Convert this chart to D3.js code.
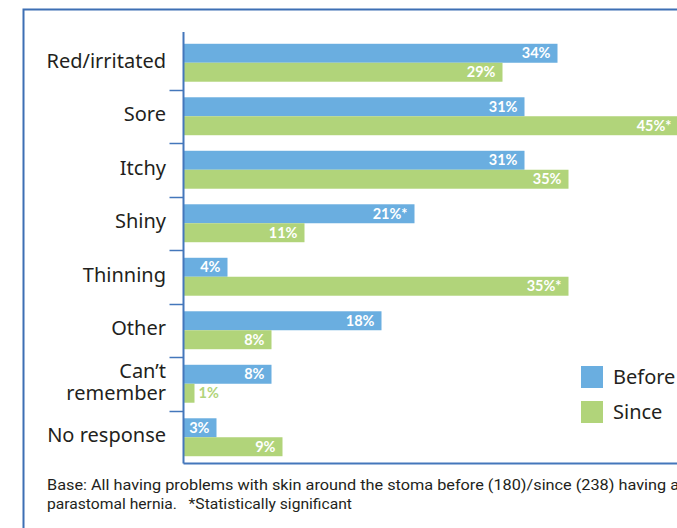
<!DOCTYPE html>
<html>
<head>
<meta charset="utf-8">
<script src="https://cdn.jsdelivr.net/npm/d3@7/dist/d3.min.js"></script>
<style>
  html, body { margin: 0; padding: 0; background: #fff; }
  svg { display: block; }
  .note { white-space: pre; }
</style>
</head>
<body>
<svg id="chart" width="677" height="528"></svg>
<script>
// Skin problems around the stoma, before vs since having a parastomal hernia
const categories = ["Red/irritated", "Sore", "Itchy", "Shiny", "Thinning", "Other", "Can\u2019t remember", "No response"];
const categoryLines = [["Red/irritated"], ["Sore"], ["Itchy"], ["Shiny"], ["Thinning"], ["Other"], ["Can\u2019t", "remember"], ["No response"]];
const beforeValues = [34, 31, 31, 21, 4, 18, 8, 3];
const sinceValues  = [29, 45, 35, 11, 35, 8, 1, 9];
const beforeFlags  = ["", "", "", "*", "", "", "", ""];
const sinceFlags   = ["", "*", "", "", "*", "", "", ""];
const seriesNames  = ["Before", "Since"];
const seriesColors = ["#6aaee0", "#b1d47a"];
const footnoteLines = [
  "Base: All having problems with skin around the stoma before (180)/since (238) having a",
  "parastomal hernia.   *Statistically significant"
];

const svg = d3.select("#chart");
const frameColor = "#3d6fb4";
const axisColor = "#4477bb";
const labelFont = "'Noto Sans', 'Open Sans', sans-serif";
const valueFont = "Lato, 'Open Sans', sans-serif";

// outer frame (top and left edges)
svg.append("path")
  .attr("d", "M23.5,528 L23.5,9.5 L677,9.5")
  .attr("fill", "none")
  .attr("stroke", frameColor)
  .attr("stroke-width", 2);

const axisX = 183.5;
const x = d3.scaleLinear().domain([0, 45]).range([axisX, axisX + 495]);
const y = d3.scaleBand().domain(categories).range([36, 464]).padding(0);
const ySub = d3.scaleBand().domain(seriesNames).range([0, y.bandwidth()]).paddingInner(0).paddingOuter(0.41);

const rows = categories.map((c, i) => ({
  cat: c,
  vals: [
    { s: "Before", v: beforeValues[i], flag: beforeFlags[i], color: seriesColors[0] },
    { s: "Since",  v: sinceValues[i],  flag: sinceFlags[i],  color: seriesColors[1] }
  ]
}));

const g = svg.append("g");
const groups = g.selectAll("g.row").data(rows).join("g")
  .attr("class", "row")
  .attr("transform", d => `translate(0,${y(d.cat)})`);

groups.selectAll("rect").data(d => d.vals).join("rect")
  .attr("x", x(0))
  .attr("y", d => ySub(d.s))
  .attr("width", d => x(d.v) - x(0))
  .attr("height", ySub.bandwidth())
  .attr("fill", d => d.color);

// value labels: inside the bar end, or just past it when the bar is short
groups.selectAll("text.val").data(d => d.vals).join("text")
  .attr("class", "val")
  .attr("x", d => d.v >= 3 ? x(d.v) - 7 : x(d.v) + 4)
  .attr("y", d => ySub(d.s) + ySub.bandwidth() / 2)
  .attr("dy", "0.36em")
  .attr("text-anchor", d => d.v >= 3 ? "end" : "start")
  .attr("fill", d => d.v >= 3 ? "#ffffff" : d.color)
  .attr("font-family", valueFont)
  .attr("font-weight", 700)
  .attr("font-size", 14.5)
  .text(d => d.v + "%" + d.flag);

// category axis line and bottom baseline
svg.append("line")
  .attr("x1", axisX).attr("x2", axisX)
  .attr("y1", 32).attr("y2", 463.5)
  .attr("stroke", axisColor).attr("stroke-width", 2);
svg.append("line")
  .attr("x1", axisX).attr("x2", 677)
  .attr("y1", 463.5).attr("y2", 463.5)
  .attr("stroke", axisColor).attr("stroke-width", 2);

// tick marks between categories
svg.selectAll("line.tick").data(categories.slice(1)).join("line")
  .attr("class", "tick")
  .attr("x1", axisX - 14).attr("x2", axisX)
  .attr("y1", d => Math.round(y(d)) + 0.5).attr("y2", d => Math.round(y(d)) + 0.5)
  .attr("stroke", axisColor).attr("stroke-width", 1.5);

// category labels, one text per line (two-line labels stack around the band centre)
const labelSize = 20;
const lineGap = 22;
const labelData = [];
categories.forEach((c, i) => {
  const lines = categoryLines[i];
  const mid = y(c) + y.bandwidth() / 2;
  lines.forEach((t, j) => {
    const offset = (j - (lines.length - 1) / 2) * lineGap;
    labelData.push({ text: t, baseline: mid + offset + 5 });
  });
});
svg.selectAll("text.cat").data(labelData).join("text")
  .attr("class", "cat")
  .attr("x", 166)
  .attr("y", d => d.baseline)
  .attr("text-anchor", "end")
  .attr("font-family", labelFont)
  .attr("font-size", labelSize)
  .attr("fill", "#231f20")
  .text(d => d.text);

// legend
const legend = svg.append("g").attr("transform", "translate(581,366)");
seriesNames.forEach((s, i) => {
  legend.append("rect")
    .attr("x", 0).attr("y", i * 35)
    .attr("width", 22).attr("height", 22)
    .attr("fill", seriesColors[i]);
  legend.append("text")
    .attr("x", 32).attr("y", i * 35 + 11)
    .attr("dy", "0.36em")
    .attr("font-family", labelFont)
    .attr("font-size", 20)
    .attr("fill", "#231f20")
    .text(s);
});

// footnote, each line set to its measured run length
const noteWidths = [632, 305];
svg.selectAll("text.note").data(footnoteLines).join("text")
  .attr("class", "note")
  .attr("xml:space", "preserve")
  .attr("x", 47)
  .attr("y", (d, i) => 490 + i * 19)
  .attr("font-family", "Roboto, sans-serif")
  .attr("font-size", 14)
  .attr("fill", "#231f20")
  .attr("textLength", (d, i) => noteWidths[i])
  .attr("lengthAdjust", "spacingAndGlyphs")
  .text(d => d);
</script>
</body>
</html>
